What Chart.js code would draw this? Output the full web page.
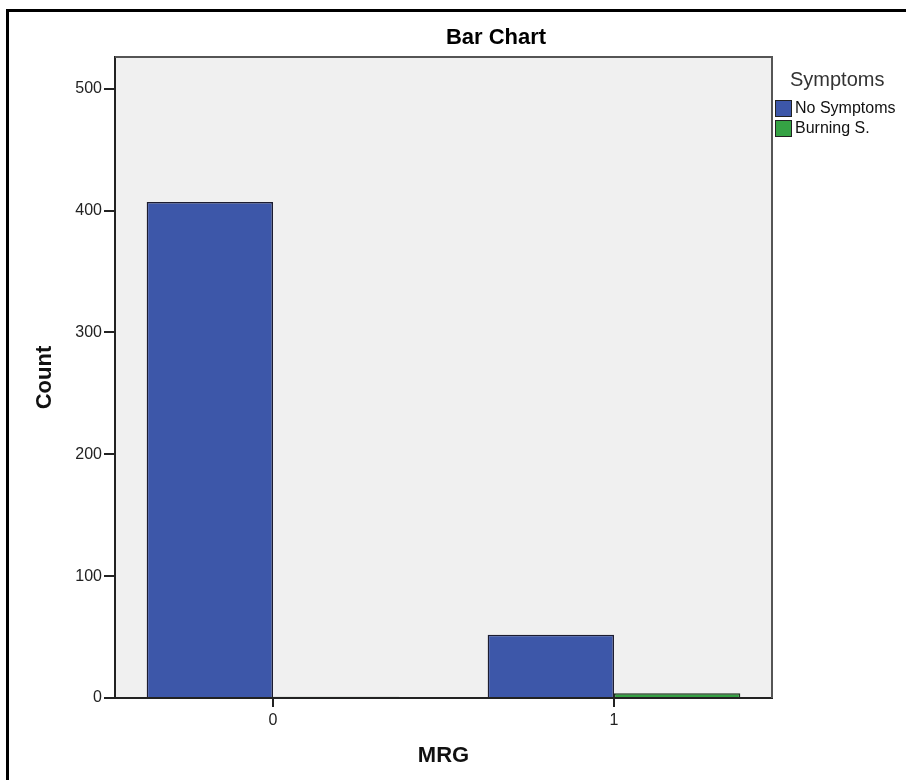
<!DOCTYPE html>
<html><head><meta charset="utf-8">
<script src="https://cdn.jsdelivr.net/npm/chart.js@4"></script>
<style>
html,body{margin:0;padding:0;background:#fff;overflow:hidden;}
#frame{position:absolute;left:6px;top:9px;width:1000px;height:1000px;border-left:3px solid #000;border-top:3px solid #000;}
#wrap{position:absolute;left:0;top:0;width:906px;height:780px;}
</style></head><body>
<div id="frame"></div>
<div id="wrap"><canvas id="c"></canvas></div>
<script>
// ---- data ----
const categories = ['0', '1'];
const seriesNames = ['No Symptoms', 'Burning S.'];
const noSymptoms = [407, 52];
const burningS = [1, 4];
const yTicks = [0, 100, 200, 300, 400, 500];
const yMax = 526;
const chartTitle = 'Bar Chart';
const xTitle = 'MRG';
const yTitle = 'Count';
const legendTitle = 'Symptoms';

const FONT = "'Liberation Sans', Arial, sans-serif";

class OffsetCategoryScale extends Chart.CategoryScale {
  configure() {
    super.configure();
    const e = this.options.edgeOffset;
    if (typeof e === 'number') {
      this._startValue = this.min - e;
      this._valueRange = (this.max - this.min) + 2 * e;
    }
  }
}
OffsetCategoryScale.id = 'offsetCategory';
OffsetCategoryScale.defaults = Chart.CategoryScale.defaults;
Chart.register(OffsetCategoryScale);

const decor = {
  id: 'decor',
  beforeDraw(chart) {
    const {ctx, chartArea: a} = chart;
    ctx.save();
    ctx.fillStyle = '#f0f0f0';
    ctx.fillRect(a.left, a.top, a.right - a.left, a.bottom - a.top);
    ctx.restore();
  },
  afterDraw(chart) {
    const {ctx, chartArea: a} = chart;
    ctx.save();
    // plot frame top/right
    ctx.strokeStyle = '#555';
    ctx.lineWidth = 2;
    ctx.beginPath();
    ctx.moveTo(a.left, a.top);
    ctx.lineTo(a.right, a.top);
    ctx.lineTo(a.right, a.bottom);
    ctx.stroke();
    // title
    ctx.fillStyle = '#000';
    ctx.font = "bold 22px " + FONT;
    ctx.textAlign = 'center';
    ctx.textBaseline = 'middle';
    ctx.fillText(chartTitle, 496, 38);
    // legend
    ctx.textAlign = 'left';
    ctx.fillStyle = '#333';
    ctx.font = "20px " + FONT;
    ctx.fillText(legendTitle, 790, 80);
    ctx.font = "16px " + FONT;
    chart.data.datasets.forEach((ds, i) => {
      const y = 100 + i * 20;
      ctx.fillStyle = ds.backgroundColor;
      ctx.fillRect(775, y, 16, 16);
      ctx.strokeStyle = '#222';
      ctx.lineWidth = 1;
      ctx.strokeRect(775.5, y + 0.5, 16, 16);
      ctx.fillStyle = '#111';
      ctx.fillText(ds.label, 795, y + 9);
    });
    ctx.restore();
  }
};

new Chart(document.getElementById('c'), {
  type: 'bar',
  data: {
    labels: categories,
    datasets: [
      {label: seriesNames[0], data: noSymptoms, backgroundColor: '#3d57a9', borderColor: '#1c1c30', borderWidth: 1.5},
      {label: seriesNames[1], data: burningS, backgroundColor: '#35a244', borderColor: '#1c301c', borderWidth: 1.5}
    ]
  },
  options: {
    responsive: true,
    maintainAspectRatio: false,
    animation: false,
    layout: {padding: {top: 57, right: 134, left: 0, bottom: 0}},
    categoryPercentage: 0.741,
    barPercentage: 1,
    plugins: {legend: {display: false}, title: {display: false}, tooltip: {enabled: false}},
    scales: {
      x: {
        type: 'offsetCategory',
        offset: true,
        edgeOffset: 0.4634,
        grid: {display: true, drawOnChartArea: false, drawTicks: true, tickLength: 9, offset: false, color: '#222', lineWidth: 2},
        border: {display: true, color: '#222', width: 2},
        ticks: {color: '#222', font: {size: 16, family: FONT}, padding: 4, maxRotation: 0},
        title: {display: true, text: xTitle, color: '#111', font: {size: 22, weight: 'bold', family: FONT}, padding: {top: 0, bottom: 11}},
        afterFit(s) { s.height = 82; }
      },
      y: {
        min: 0,
        max: yMax,
        afterBuildTicks(s) { s.ticks = yTicks.map(v => ({value: v})); },
        grid: {display: true, drawOnChartArea: false, drawTicks: true, tickLength: 11, color: '#222', lineWidth: 2},
        border: {display: true, color: '#222', width: 2},
        ticks: {color: '#222', font: {size: 16, family: FONT}, padding: 2},
        title: {display: true, text: yTitle, color: '#111', font: {size: 22, weight: 'bold', family: FONT}, padding: {top: 32, bottom: 0}},
        afterFit(s) { s.width = 115; }
      }
    }
  },
  plugins: [decor]
});
</script>
</body></html>
